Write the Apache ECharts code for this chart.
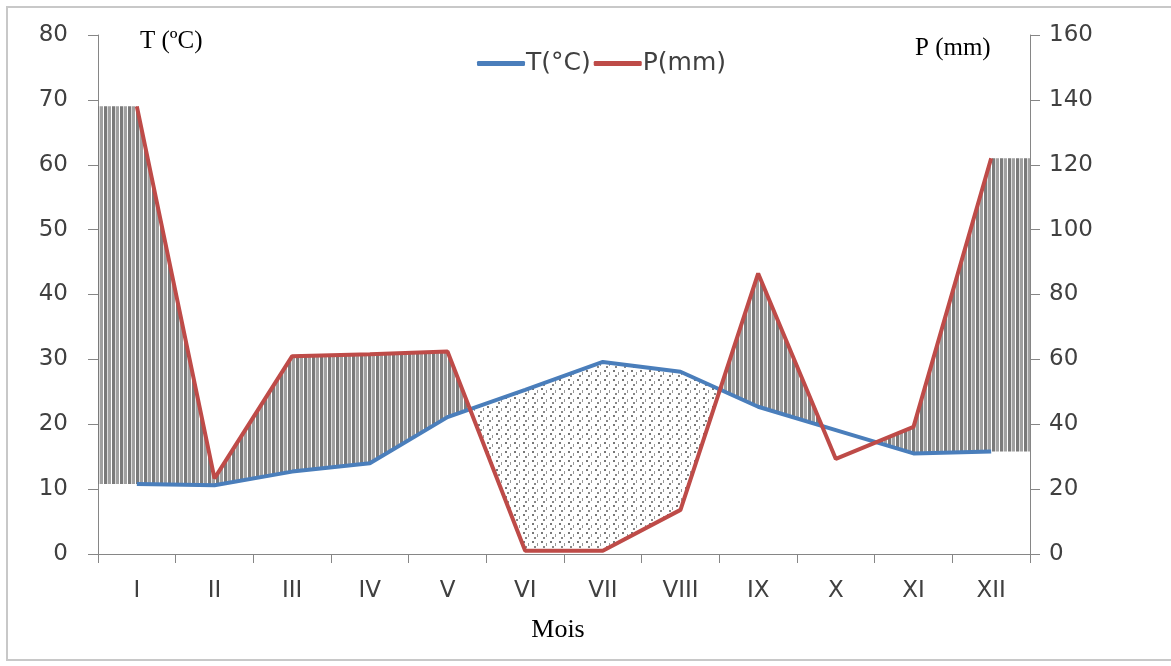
<!DOCTYPE html>
<html>
<head>
<meta charset="utf-8">
<script src="https://cdn.jsdelivr.net/npm/echarts@6/dist/echarts.min.js"></script>
<style>
html,body{margin:0;padding:0;background:#fff;}
#chart{width:1171px;height:666px;}
</style>
</head>
<body>
<div id="chart"></div>
<script>
// ---- data ----
const months = ['I','II','III','IV','V','VI','VII','VIII','IX','X','XI','XII'];
const tempC = [10.8, 10.6, 12.7, 14.0, 21.1, 25.3, 29.6, 28.1, 22.7, 19.1, 15.5, 15.8];
const precipMm = [138, 23.3, 61.0, 61.6, 62.4, 1, 1, 13.6, 86.5, 29.3, 39.2, 122];
const tAxisMax = 80, tAxisStep = 10;
const pAxisMax = 160, pAxisStep = 20;
const legendNames = ['T(°C)', 'P(mm)'];

// ---- fill patterns ----
function makeHumidPattern(){
  const c = document.createElement('canvas');
  c.width = 8; c.height = 4;
  const g = c.getContext('2d');
  g.fillStyle = '#ffffff'; g.fillRect(0,0,8,4);
  g.fillStyle = '#7a7a7a'; g.fillRect(0,0,3,4);
  g.fillStyle = '#dcdcdc'; g.fillRect(3,0,1,4);
  g.fillStyle = '#a0a0a0'; g.fillRect(4,0,3,4);
  return {image: c, repeat: 'repeat'};
}
function makeDryPattern(){
  const c = document.createElement('canvas');
  c.width = 9; c.height = 9;
  const g = c.getContext('2d');
  g.fillStyle = '#ffffff'; g.fillRect(0,0,9,9);
  g.fillStyle = '#777777'; g.fillRect(1,1,2,2);
  g.fillStyle = '#999999'; g.fillRect(6,3,1,3);
  g.fillStyle = '#888888'; g.fillRect(3,6,2,2);
  return {image: c, repeat: 'repeat'};
}
const humidFill = makeHumidPattern();
const dryFill = makeDryPattern();

function renderZones(params, api){
  if (params.dataIndex !== 0) return;
  const n = months.length;
  const ratio = tAxisMax / pAxisMax;
  const xs = months.map((_, i) => api.coord([i, 0])[0]);
  const half = api.size([1, 0])[0] / 2;
  const yOf = v => api.coord([0, v])[1];
  const st = [];
  st.push({x: xs[0] - half, t: tempC[0], p: precipMm[0] * ratio, m: 0});
  for (let i = 0; i < n; i++) st.push({x: xs[i], t: tempC[i], p: precipMm[i] * ratio, m: 1});
  st.push({x: xs[n-1] + half, t: tempC[n-1], p: precipMm[n-1] * ratio, m: 0});
  const groups = [];
  let cur = {humid: st[0].p - st[0].t >= 0, pts: [st[0]], months: st[0].m};
  for (let k = 1; k < st.length; k++) {
    const a = st[k-1], b = st[k];
    const da = a.p - a.t, db = b.p - b.t;
    if ((da >= 0) !== (db >= 0)) {
      const f = da / (da - db);
      const cx = a.x + f * (b.x - a.x);
      const cv = a.t + f * (b.t - a.t);
      const cp = {x: cx, t: cv, p: cv, m: 0};
      cur.pts.push(cp);
      groups.push(cur);
      cur = {humid: db >= 0, pts: [cp], months: 0};
    }
    cur.pts.push(b);
    cur.months += b.m;
  }
  groups.push(cur);
  const children = [];
  groups.forEach(g => {
    if (!g.humid && g.months < 2) return;
    const top = g.pts.map(s => [s.x, yOf(s.p)]);
    const bot = g.pts.map(s => [s.x, yOf(s.t)]).reverse();
    children.push({
      type: 'polygon',
      shape: {points: top.concat(bot)},
      style: {fill: g.humid ? humidFill : dryFill, stroke: null}
    });
  });
  return {type: 'group', children: children};
}

const axisGray = '#868686';
const labelFont = {fontFamily: 'DejaVu Sans', fontSize: 23, color: '#404040'};

const chart = echarts.init(document.getElementById('chart'), null, {renderer: 'canvas'});
chart.setOption({
  animation: false,
  backgroundColor: '#ffffff',
  grid: {left: 98, right: 141, top: 35, bottom: 112, containLabel: false},
  legend: {
    data: legendNames.map(n => ({name: n, icon: 'roundRect'})),
    left: 472, top: 46,
    itemWidth: 48, itemHeight: 5, itemGap: 3,
    textStyle: {fontFamily: 'DejaVu Sans', fontSize: 25, color: '#404040', padding: [0,0,0,-4]}
  },
  xAxis: {
    type: 'category',
    data: months,
    boundaryGap: true,
    axisLine: {lineStyle: {color: axisGray, width: 1}},
    axisTick: {show: true, length: 9, lineStyle: {color: axisGray}},
    axisLabel: Object.assign({margin: 26, interval: 0}, labelFont),
    splitLine: {show: false}
  },
  yAxis: [
    {
      type: 'value', min: 0, max: tAxisMax, interval: tAxisStep,
      axisLine: {show: true, lineStyle: {color: axisGray, width: 1}},
      axisTick: {show: true, length: 10, lineStyle: {color: axisGray}},
      axisLabel: Object.assign({margin: 30}, labelFont),
      splitLine: {show: false}
    },
    {
      type: 'value', min: 0, max: pAxisMax, interval: pAxisStep, position: 'right',
      axisLine: {show: true, lineStyle: {color: axisGray, width: 1}},
      axisTick: {show: true, length: 10, lineStyle: {color: axisGray}},
      axisLabel: Object.assign({margin: 19}, labelFont),
      splitLine: {show: false}
    }
  ],
  series: [
    {
      name: 'zones', type: 'custom', coordinateSystem: 'cartesian2d',
      xAxisIndex: 0, yAxisIndex: 0, z: 1, silent: true,
      renderItem: renderZones,
      data: [[0, 0]]
    },
    {
      name: legendNames[0], type: 'line', yAxisIndex: 0, data: tempC,
      symbol: 'none', z: 3,
      itemStyle: {color: '#4a7ebb'},
      lineStyle: {color: '#4a7ebb', width: 4}
    },
    {
      name: legendNames[1], type: 'line', yAxisIndex: 1, data: precipMm,
      symbol: 'none', z: 4,
      itemStyle: {color: '#be4b48'},
      lineStyle: {color: '#be4b48', width: 4}
    }
  ],
  graphic: [
    {type: 'rect', shape: {x: 7, y: 7, width: 1180, height: 653},
     style: {fill: 'none', stroke: '#c8c8c8', lineWidth: 2}, silent: true},
    {type: 'text', x: 140, y: 41,
     style: {text: 'T (ºC)', font: '25px "Liberation Serif"', fill: '#000', textVerticalAlign: 'middle'}},
    {type: 'text', x: 915, y: 48,
     style: {text: 'P (mm)', font: '25px "Liberation Serif"', fill: '#000', textVerticalAlign: 'middle'}},
    {type: 'text', x: 558, y: 630,
     style: {text: 'Mois', font: '26px "Liberation Serif"', fill: '#000', textAlign: 'center', textVerticalAlign: 'middle'}}
  ]
});
</script>
</body>
</html>
